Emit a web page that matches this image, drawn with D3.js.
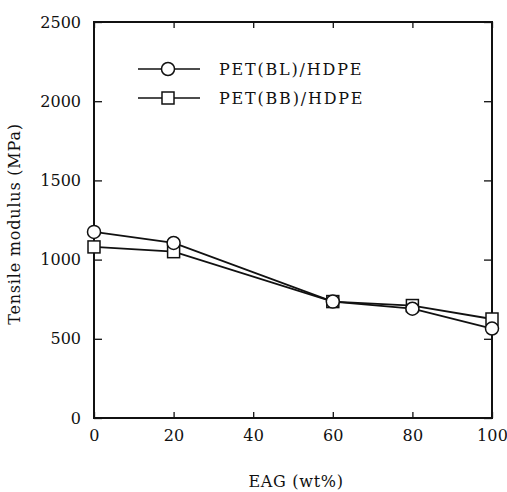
<!DOCTYPE html>
<html>
<head>
<meta charset="utf-8">
<script src="https://cdn.jsdelivr.net/npm/d3@7"></script>
<style>
  body { margin: 0; background: #fff; }
  svg text { font-family: "DejaVu Serif", "Liberation Serif", serif; fill: #111; }
</style>
</head>
<body>
<div id="chart"></div>
<script>
// data
const eag = [0, 20, 60, 80, 100];
const petBL = [1175, 1105, 735, 690, 565];
const petBB = [1080, 1050, 735, 710, 625];
const xTicks = [0, 20, 40, 60, 80, 100];
const yTicks = [0, 500, 1000, 1500, 2000, 2500];
const seriesNames = ["PET(BL)/HDPE", "PET(BB)/HDPE"];

const W = 507, H = 492;
const margin = { left: 94, right: 15, top: 22, bottom: 74 };
const width = W - margin.left - margin.right;
const height = H - margin.top - margin.bottom;

const svg = d3.select("#chart").append("svg")
  .attr("width", W)
  .attr("height", H);

const chart = svg.append("g")
  .attr("transform", `translate(${margin.left}, ${margin.top})`);

const x = d3.scaleLinear().domain([0, 100]).range([0, width]);
const y = d3.scaleLinear().domain([0, 2500]).range([height, 0]);

// axes, ticks pointing inward
chart.append("g")
  .attr("transform", `translate(0, ${height})`)
  .call(d3.axisBottom(x).tickValues(xTicks).tickSize(-6).tickPadding(12).tickFormat(d3.format("d")))
  .call(g => g.select(".domain").remove())
  .call(g => g.selectAll("text").attr("font-size", "16px").style("letter-spacing", "0.2px"));

chart.append("g")
  .call(d3.axisTop(x).tickValues(xTicks).tickSize(-6).tickFormat(""))
  .call(g => g.select(".domain").remove());

chart.append("g")
  .call(d3.axisLeft(y).tickValues(yTicks).tickSize(-8).tickPadding(13).tickFormat(d3.format("d")))
  .call(g => g.select(".domain").remove())
  .call(g => g.selectAll("text").attr("font-size", "16px"));

chart.append("g")
  .attr("transform", `translate(${width}, 0)`)
  .call(d3.axisRight(y).tickValues(yTicks).tickSize(-8).tickFormat(""))
  .call(g => g.select(".domain").remove());

chart.selectAll(".tick line").attr("stroke", "#111").attr("stroke-width", 1.3);

// frame
chart.append("rect")
  .attr("x", 0).attr("y", 0)
  .attr("width", width).attr("height", height)
  .attr("fill", "none")
  .attr("stroke", "#111")
  .attr("stroke-width", 2);

const line = d3.line()
  .x(d => x(d[0]))
  .y(d => y(d[1]));

const dataBL = eag.map((e, i) => [e, petBL[i]]);
const dataBB = eag.map((e, i) => [e, petBB[i]]);

[dataBL, dataBB].forEach(data => {
  chart.append("path")
    .datum(data)
    .attr("d", line)
    .attr("fill", "none")
    .attr("stroke", "#111")
    .attr("stroke-width", 1.8);
});

// markers
const sq = 12;
chart.selectAll(".bb")
  .data(dataBB)
  .join("rect")
  .attr("class", "bb")
  .attr("x", d => x(d[0]) - sq / 2)
  .attr("y", d => y(d[1]) - sq / 2)
  .attr("width", sq).attr("height", sq)
  .attr("fill", "#fff")
  .attr("stroke", "#111")
  .attr("stroke-width", 1.5);

chart.selectAll(".bl")
  .data(dataBL)
  .join("circle")
  .attr("class", "bl")
  .attr("cx", d => x(d[0]))
  .attr("cy", d => y(d[1]))
  .attr("r", 6.5)
  .attr("fill", "#fff")
  .attr("stroke", "#111")
  .attr("stroke-width", 1.5);

// legend
const legend = svg.append("g");
const legRows = [69, 98];
legRows.forEach((ly, i) => {
  legend.append("line")
    .attr("x1", 138).attr("x2", 200)
    .attr("y1", ly).attr("y2", ly)
    .attr("stroke", "#111")
    .attr("stroke-width", 1.5);
  if (i === 0) {
    legend.append("circle")
      .attr("cx", 168).attr("cy", ly).attr("r", 6.5)
      .attr("fill", "#fff").attr("stroke", "#111").attr("stroke-width", 1.5);
  } else {
    legend.append("rect")
      .attr("x", 168 - sq / 2).attr("y", ly - sq / 2)
      .attr("width", sq).attr("height", sq)
      .attr("fill", "#fff").attr("stroke", "#111").attr("stroke-width", 1.5);
  }
  legend.append("text")
    .attr("x", 219).attr("y", ly + 6)
    .attr("font-size", "16px")
    .style("letter-spacing", "1.8px")
    .text(seriesNames[i]);
});

// axis titles
svg.append("text")
  .attr("x", 296).attr("y", 487)
  .attr("text-anchor", "middle")
  .attr("font-size", "16px")
  .style("letter-spacing", "0.7px")
  .text("EAG (wt%)");

svg.append("text")
  .attr("transform", "translate(20, 224) rotate(-90)")
  .attr("text-anchor", "middle")
  .attr("font-size", "16px")
  .style("letter-spacing", "0.8px")
  .text("Tensile modulus (MPa)");
</script>
</body>
</html>
